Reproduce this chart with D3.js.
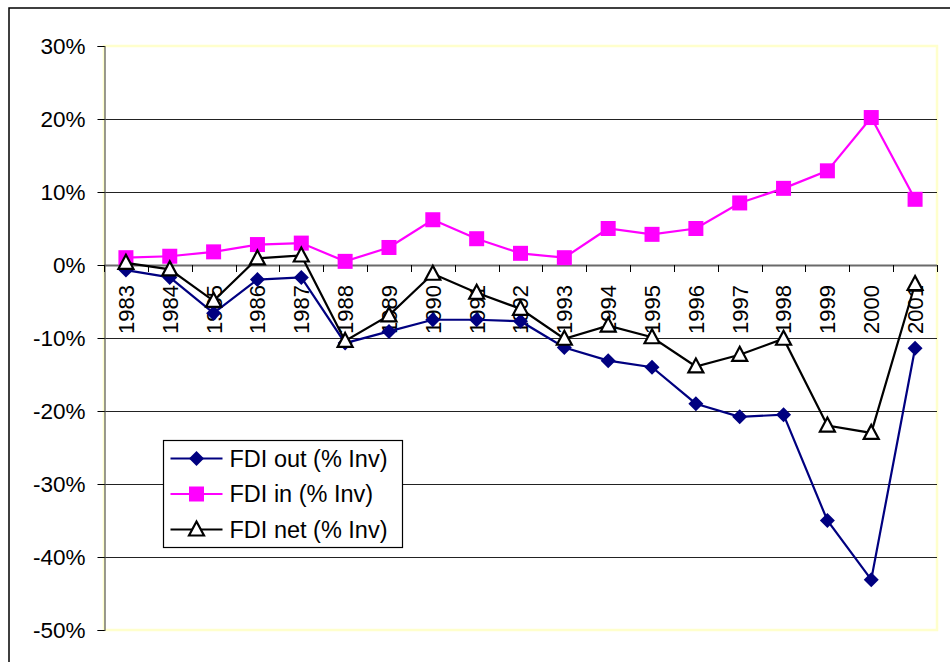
<!DOCTYPE html>
<html>
<head>
<meta charset="utf-8">
<script src="https://cdn.jsdelivr.net/npm/d3@7"></script>
<style>
  body { margin: 0; background: #fff; }
  text { font-family: "Liberation Sans", Arial, sans-serif; fill: #000; }
</style>
</head>
<body>
<svg id="chart"></svg>
<script>
var W = 950, H = 662;

// data (% of investment)
var years = ["1983","1984","1985","1986","1987","1988","1989","1990","1991","1992",
             "1993","1994","1995","1996","1997","1998","1999","2000","2001"];
var fdiOut = [-0.7, -1.7, -6.6, -2.0, -1.7, -10.7, -9.1, -7.5, -7.5, -7.7,
              -11.3, -13.1, -14.0, -19.0, -20.8, -20.5, -35.0, -43.1, -11.4];
var fdiIn  = [1.0, 1.2, 1.8, 2.8, 3.0, 0.5, 2.4, 6.2, 3.6, 1.6,
              1.0, 5.0, 4.2, 5.0, 8.5, 10.5, 12.9, 20.2, 9.0];
var fdiNet = [0.3, -0.6, -4.9, 0.9, 1.3, -10.4, -6.9, -1.2, -3.8, -6.0,
              -10.1, -8.3, -9.9, -13.9, -12.3, -10.1, -22.0, -23.0, -2.6];
var yTicks = [30, 20, 10, 0, -10, -20, -30, -40, -50];
var seriesNames = ["FDI out (% Inv)", "FDI in (% Inv)", "FDI net (% Inv)"];

var plot = { left: 104, right: 937, top: 46, bottom: 630 };

var svg = d3.select("#chart").attr("width", W).attr("height", H);

// outer chart border (runs off the page on right and bottom)
svg.append("rect")
  .attr("x", 9).attr("y", 8).attr("width", 960).attr("height", 680)
  .attr("fill", "#fff").attr("stroke", "#000").attr("stroke-width", 1.5);

var x = d3.scaleBand().domain(years).range([plot.left, plot.right]).padding(0);
var y = d3.scaleLinear().domain([-50, 30]).range([plot.bottom, plot.top]);
function cx(i) { return x(years[i]) + x.bandwidth() / 2; }
function crisp(v) { return Math.round(v) + 0.5; }

// plot area border (pale yellow)
svg.append("rect")
  .attr("x", plot.left).attr("y", plot.top)
  .attr("width", plot.right - plot.left).attr("height", plot.bottom - plot.top)
  .attr("fill", "#fff").attr("stroke", "#ffffcc").attr("stroke-width", 2.5);

// gridlines
svg.append("g").selectAll("line")
  .data(yTicks.filter(function(d) { return d != 30 && d != -50; }))
  .enter().append("line")
  .attr("x1", plot.left).attr("x2", plot.right)
  .attr("y1", function(d) { return crisp(y(d)); }).attr("y2", function(d) { return crisp(y(d)); })
  .attr("stroke", function(d) { return d == 0 ? "#6a6a6a" : "#222"; })
  .attr("stroke-width", function(d) { return d == 0 ? 2 : 1; });

// y axis
var yAxis = d3.axisLeft(y).tickValues(yTicks).tickSize(7).tickPadding(12)
  .tickFormat(function(d) { return d + "%"; });
var gy = svg.append("g").attr("transform", "translate(" + (plot.left + 0.5) + ",0)").call(yAxis);
gy.select(".domain").attr("stroke", "#555").attr("stroke-width", 1.2);
gy.selectAll(".tick line").attr("stroke", "#000");
gy.selectAll("text").style("font-size", "22.5px").attr("fill", "#000");

// x axis at zero: ticks at category boundaries
var bounds = years.map(function(d) { return x(d); }).concat([plot.right]);
svg.append("g").selectAll("line").data(bounds).enter().append("line")
  .attr("x1", function(d) { return crisp(d); }).attr("x2", function(d) { return crisp(d); })
  .attr("y1", y(0)).attr("y2", y(0) + 7)
  .attr("stroke", "#000").attr("stroke-width", 1);

svg.append("g").selectAll("text").data(years).enter().append("text")
  .attr("transform", function(d, i) { return "translate(" + cx(i) + "," + (y(0) + 20) + ") rotate(-90)"; })
  .attr("text-anchor", "end")
  .attr("dy", "0.36em")
  .style("font-size", "22px")
  .text(function(d) { return d; });

// series
var line = d3.line()
  .x(function(d, i) { return cx(i); })
  .y(function(d) { return y(d); });

var series = [
  { name: seriesNames[0], vals: fdiOut, color: "#000080", marker: "diamond" },
  { name: seriesNames[1], vals: fdiIn,  color: "#ff00ff", marker: "square" },
  { name: seriesNames[2], vals: fdiNet, color: "#000000", marker: "triangle" }
];

function drawMarker(g, type, color, px, py) {
  if (type == "diamond") {
    var r = 7.5;
    g.append("path")
      .attr("d", "M" + px + "," + (py - r) + "L" + (px + r) + "," + py + "L" + px + "," + (py + r) + "L" + (px - r) + "," + py + "Z")
      .attr("fill", color);
  } else if (type == "square") {
    g.append("rect")
      .attr("x", px - 7.5).attr("y", py - 7.5).attr("width", 15).attr("height", 15)
      .attr("fill", color);
  } else {
    g.append("path")
      .attr("d", "M" + px + "," + (py - 8) + "L" + (px + 7.5) + "," + (py + 6) + "L" + (px - 7.5) + "," + (py + 6) + "Z")
      .attr("fill", "#fff").attr("stroke", color).attr("stroke-width", 2.2);
  }
}

series.forEach(function(s) {
  var g = svg.append("g");
  g.append("path").datum(s.vals)
    .attr("d", line)
    .attr("fill", "none").attr("stroke", s.color).attr("stroke-width", 2.2);
  s.vals.forEach(function(v, i) { drawMarker(g, s.marker, s.color, cx(i), y(v)); });
});

// legend
var lg = svg.append("g").attr("transform", "translate(163.5,440.5)");
lg.append("rect").attr("width", 239).attr("height", 107)
  .attr("fill", "#fff").attr("stroke", "#000").attr("stroke-width", 1.2);
series.forEach(function(s, i) {
  var ly = 18 + i * 35.5;
  lg.append("line").attr("x1", 7).attr("x2", 59).attr("y1", ly).attr("y2", ly)
    .attr("stroke", s.color).attr("stroke-width", 2.2);
  drawMarker(lg, s.marker, s.color, 33, ly);
  lg.append("text").attr("x", 66).attr("y", ly).attr("dy", "0.36em")
    .style("font-size", "23.5px").text(s.name);
});
</script>
</body>
</html>
